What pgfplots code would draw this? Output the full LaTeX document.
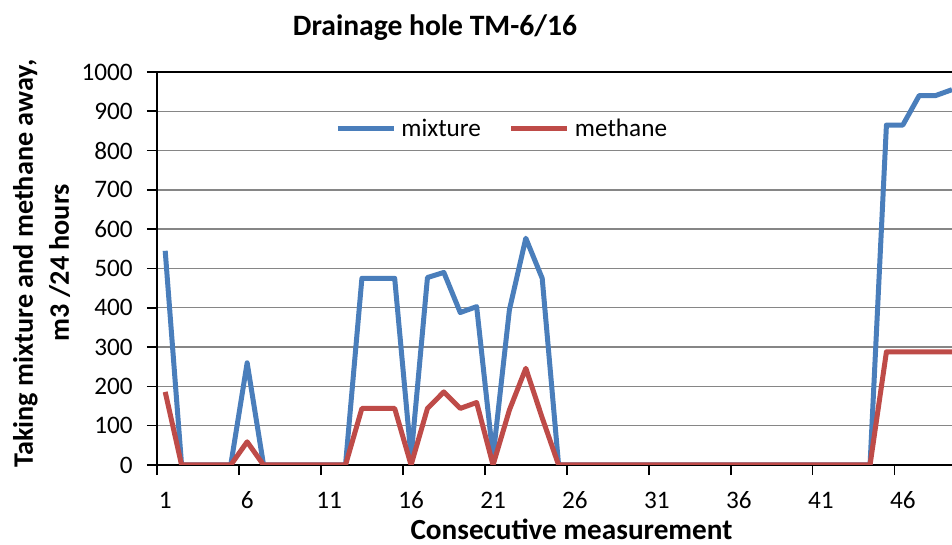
\documentclass[border=0pt]{standalone}
\usepackage{fontspec}
\setmainfont{Carlito}
\usepackage{pgfplots}
\pgfplotsset{compat=1.18}
\definecolor{cblue}{HTML}{4A7EBB}
\definecolor{cred}{HTML}{BE4B48}
\definecolor{cgrid}{RGB}{134,134,134}
\pgfplotstableread{
x mix meth
1 545 186
2 0 0
3 0 0
4 0 0
5 0 0
6 260 59
7 0 0
8 0 0
9 0 0
10 0 0
11 0 0
12 0 0
13 475 144
14 475 144
15 475 144
16 20 0
17 477 144
18 490 186
19 388 144
20 403 159
21 20 0
22 395 140
23 577 246
24 475 120
25 0 0
26 0 0
27 0 0
28 0 0
29 0 0
30 0 0
31 0 0
32 0 0
33 0 0
34 0 0
35 0 0
36 0 0
37 0 0
38 0 0
39 0 0
40 0 0
41 0 0
42 0 0
43 0 0
44 0 0
45 865 288
46 865 288
47 940 288
48 940 288
49 955 288
}\datatable
\begin{document}
\begin{tikzpicture}
\path[use as bounding box] (-78.5pt,-40pt) rectangle (397.5pt,232.5pt);
\begin{axis}[
  at={(0,0)}, anchor=south west,
  scale only axis, width=397.5pt, height=196.5pt,
  xmin=0.5, xmax=49, ymin=0, ymax=1000,
  axis lines*=left,
  axis line style={black, line width=0.8pt},
  tick align=outside,
  xtick={1,6,...,46},
  minor xtick={0.5,5.5,...,45.5},
  major x tick style={draw=none},
  minor tick length=5pt,
  major tick length=5pt,
  ytick={0,100,...,1000},
  tick style={black, line width=0.8pt},
  ymajorgrids,
  grid style={cgrid, line width=0.7pt},
  tick label style={font=\fontsize{12.6}{14}\selectfont},
  /pgf/number format/assume math mode=true,
  /pgf/number format/1000 sep={},
  yticklabel style={inner xsep=0pt, xshift=-7pt},
  xticklabel style={anchor=base, inner sep=0pt, yshift=-16.5pt},
  legend style={at={(rel axis cs:0.2239,0.855)}, anchor=west, draw=none, fill=white,
    inner sep=0pt, nodes={inner sep=0pt},
    font=\fontsize{12.6}{14}\selectfont, legend columns=2, column sep=2.5pt,
    /tikz/every even column/.append style={column sep=14pt}},
  legend image code/.code={\draw[#1] (0pt,0pt) -- (28pt,0pt);},
  clip=true,
]
\addplot[cblue, line width=2.5pt, line join=round] table[x=x, y=mix] {\datatable};
\addlegendentry{mixture}
\addplot[cred, line width=2.5pt, line join=round] table[x=x, y=meth] {\datatable};
\addlegendentry{methane}
\draw[black, line width=0.8pt] (rel axis cs:0,1) -- (rel axis cs:1,1);
\end{axis}
\node[font=\bfseries\fontsize{14.8}{16}\selectfont, anchor=base, inner sep=0pt] at (139pt,214.5pt) {Drainage hole TM-6/16};
\node[font=\bfseries\fontsize{14.6}{16}\selectfont, anchor=base, inner sep=0pt] at (207.25pt,-37.3pt) {Consecutive measurement};
\node[font=\bfseries\fontsize{14.1}{16}\selectfont, anchor=base, rotate=90, inner sep=0pt] at (-62pt,100.75pt) {Taking mixture and methane away,};
\node[font=\bfseries\fontsize{14.1}{16}\selectfont, anchor=base, rotate=90, inner sep=0pt] at (-44pt,101.25pt) {m3 /24 hours};
\end{tikzpicture}
\end{document}
